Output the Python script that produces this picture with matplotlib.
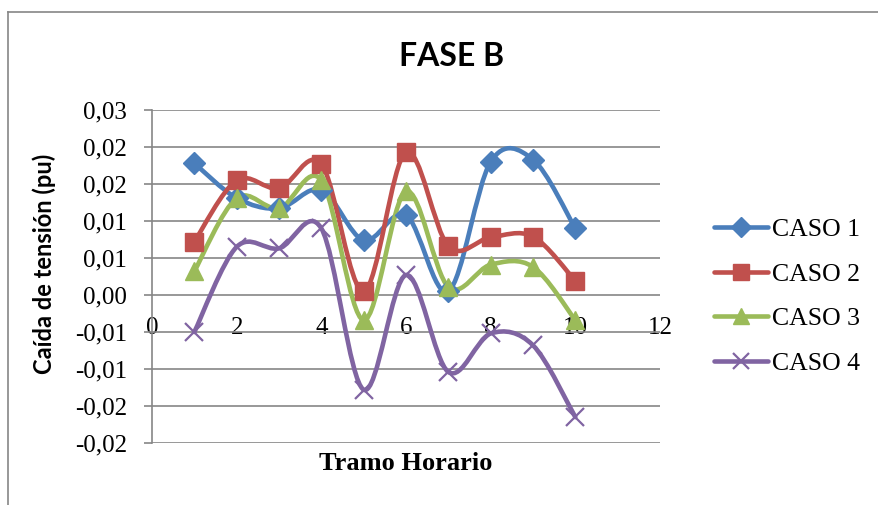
import matplotlib
matplotlib.use('Agg')
import matplotlib.pyplot as plt
from matplotlib.path import Path
from matplotlib.patches import PathPatch
from matplotlib.lines import Line2D

tramos = [1, 2, 3, 4, 5, 6, 7, 8, 9, 10]
caso1 = [0.0178, 0.0131, 0.0117, 0.0142, 0.0074, 0.0108, 0.0005, 0.0180, 0.0183, 0.0090]
caso2 = [0.0072, 0.0155, 0.0144, 0.0177, 0.0005, 0.0193, 0.0066, 0.0078, 0.0079, 0.0019]
caso3 = [0.0032, 0.0131, 0.0117, 0.0155, -0.0034, 0.0140, 0.0011, 0.0041, 0.0038, -0.0034]
caso4 = [-0.0050, 0.0065, 0.0063, 0.0090, -0.0128, 0.0027, -0.0104, -0.0052, -0.0068, -0.0165]

nombres = ['CASO 1', 'CASO 2', 'CASO 3', 'CASO 4']
colores = ['#4A7EBB', '#C0504D', '#9BBB59', '#8064A2']
marcadores = ['D', 's', '^', 'x']
tam_marc = [11, 13, 13, 13]

yticks = [-0.02, -0.015, -0.01, -0.005, 0.0, 0.005, 0.01, 0.015, 0.02, 0.025]
ytick_labels = ['-0,02', '-0,02', '-0,01', '-0,01', '0,00', '0,01', '0,01', '0,02', '0,02', '0,03']
xticks = [0, 2, 4, 6, 8, 10, 12]

GRIS = '#868686'
serif = 'Liberation Serif'
sans = 'Lato'


def suave(x, y):
    # curva tipo Excel (Catmull-Rom como Bezier)
    n = len(x)
    verts = [(x[0], y[0])]
    codes = [Path.MOVETO]
    for i in range(n - 1):
        x0, y0 = (x[i - 1], y[i - 1]) if i > 0 else (x[i], y[i])
        x3, y3 = (x[i + 2], y[i + 2]) if i + 2 < n else (x[i + 1], y[i + 1])
        c1 = (x[i] + (x[i + 1] - x0) / 6, y[i] + (y[i + 1] - y0) / 6)
        c2 = (x[i + 1] - (x3 - x[i]) / 6, y[i + 1] - (y3 - y[i]) / 6)
        verts += [c1, c2, (x[i + 1], y[i + 1])]
        codes += [Path.CURVE4] * 3
    return Path(verts, codes)


fig = plt.figure(figsize=(8.79, 5.05), dpi=100)
ax = fig.add_axes([152 / 879, 1 - 443 / 505, 508 / 879, 333 / 505])

# borde exterior del grafico
fig.add_artist(Line2D([8 / 879, 8 / 879], [0, 1 - 12 / 505], transform=fig.transFigure, color=GRIS, lw=1.2))
fig.add_artist(Line2D([8 / 879, 1], [1 - 12 / 505, 1 - 12 / 505], transform=fig.transFigure, color=GRIS, lw=1.2))

for s in ['top', 'right', 'bottom']:
    ax.spines[s].set_visible(False)
ax.spines['bottom'].set_position(('data', 0))
ax.spines['left'].set_color(GRIS)
ax.spines['left'].set_linewidth(1.2)

ax.set_xlim(0, 12)
ax.set_ylim(-0.02, 0.025)
ax.set_yticks(yticks)
ax.set_yticklabels(ytick_labels)
ax.set_xticks(xticks)
ax.set_xticklabels([str(t) for t in xticks])

ax.grid(axis='y', color=GRIS, lw=1.2)
ax.set_axisbelow(True)
ax.tick_params(axis='y', colors=GRIS, length=6, width=1.2, labelcolor='black', pad=12,
               labelsize=18, labelfontfamily=serif)
ax.tick_params(axis='x', length=0, pad=16, labelcolor='black', labelsize=18,
               labelfontfamily=serif)

series = [caso1, caso2, caso3, caso4]
for vals, nom, col, mk, ms in zip(series, nombres, colores, marcadores, tam_marc):
    mew = 1.6 if mk == 'x' else 1
    ax.add_patch(PathPatch(suave(tramos, vals), facecolor='none', edgecolor=col, lw=3.3,
                           capstyle='round', joinstyle='round', zorder=3))
    ax.plot(tramos, vals, linestyle='none', marker=mk, markersize=ms, color=col,
            markeredgewidth=mew, zorder=4, clip_on=False)
    ax.plot([], [], color=col, lw=3.3, marker=mk, markersize=ms - 1,
            markeredgewidth=mew, label=nom, solid_capstyle='round')

fig.text(452 / 879, 1 - 56 / 505, 'FASE B', ha='center', va='center',
         fontfamily=sans, fontweight='bold', fontsize=23)
fig.text(44 / 879, 1 - 264 / 505, 'Caída de tensión (pu)', ha='center', va='center',
         rotation=90, fontfamily=sans, fontweight='bold', fontsize=17)
fig.text(406 / 879, 1 - 463 / 505, 'Tramo Horario', ha='center', va='center',
         fontfamily=serif, fontweight='bold', fontsize=19)

fig.legend(loc='upper left', bbox_to_anchor=(714 / 879, 1 - 218 / 505), frameon=False,
           prop={'family': serif, 'size': 18.5}, handlelength=2.1, labelspacing=0.84,
           handletextpad=0.15, borderaxespad=0, borderpad=0)

fig.savefig('out.png', dpi=100)
